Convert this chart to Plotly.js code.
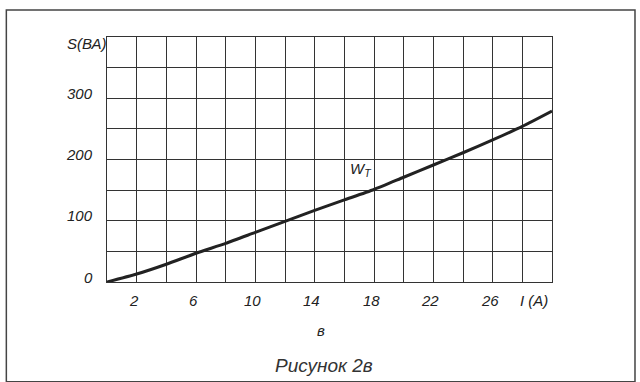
<!DOCTYPE html>
<html><head><meta charset="utf-8">
<script src="https://cdn.plot.ly/plotly-3.0.1.min.js"></script>
<style>html,body{margin:0;padding:0;background:#fff}#c{width:640px;height:382px}</style>
</head><body><div id="c"></div>
<script>
// Data
const current = [0, 2, 4, 6, 8, 10, 12, 14, 16, 18, 20, 22, 24, 26, 28, 30];          // I (A)
const power   = [0, 13, 29, 47, 63, 81, 99, 117, 134, 151, 171, 191, 211, 232, 254, 279]; // S (ВА)
const xTickVals = [2, 6, 10, 14, 18, 22, 26];
const xTickText = ["2", "6", "10", "14", "18", "22", "26"];
const yTickVals = [0, 100, 200, 300];
const yTickText = ["0", "100", "200", "300"];
const curveName = "W<sub>T</sub>";
const xUnitLabel = "I (A)";
const yUnitLabel = "S(ВА)";
const subLabel = "в";
const caption = "Рисунок 2в";

const ink = "#222";
const tickFont = {family: "Liberation Sans, Arial, sans-serif", size: 15, color: ink, style: "italic"};

const trace = {
  x: current, y: power, type: "scatter", mode: "lines",
  line: {color: ink, width: 3, shape: "spline", smoothing: 0.6},
  hoverinfo: "skip", showlegend: false
};

const axisCommon = {
  showgrid: true, gridcolor: "#333", gridwidth: 1,
  showline: true, linecolor: "#333", linewidth: 1, mirror: true,
  zeroline: false, ticks: "", showticklabels: false, fixedrange: true
};

// tick labels drawn as annotations, built from the tick arrays (slightly offset like the hand drawing)
const xTickAnn = xTickVals.map((v, i) => ({
  x: v, y: 0, xref: "x", yref: "y", text: xTickText[i], showarrow: false,
  font: tickFont, xanchor: "center", yanchor: "middle", xshift: -3, yshift: -18
}));
const yTickAnn = yTickVals.map((v, i) => ({
  x: 0, y: v, xref: "x", yref: "y", text: yTickText[i], showarrow: false,
  font: tickFont, xanchor: "right", yanchor: "middle", xshift: -12, yshift: 5
}));

const layout = {
  width: 640, height: 382,
  margin: {l: 107, r: 88, t: 37, b: 100, pad: 0},
  paper_bgcolor: "#fff", plot_bgcolor: "#fff",
  showlegend: false,
  xaxis: Object.assign({}, axisCommon, {
    range: [0, 30], tickmode: "array", tickvals: xTickVals, ticktext: xTickText,
    minor: {tick0: 0, dtick: 2, showgrid: true, gridcolor: "#333", gridwidth: 1, ticks: ""}
  }),
  yaxis: Object.assign({}, axisCommon, {
    range: [0, 400], tickmode: "array", tickvals: yTickVals, ticktext: yTickText,
    minor: {tick0: 0, dtick: 50, showgrid: true, gridcolor: "#333", gridwidth: 1, ticks: ""}
  }),
  annotations: xTickAnn.concat(yTickAnn, [
    {x: 17.1, y: 183, xref: "x", yref: "y", text: curveName, showarrow: false,
     font: tickFont, xanchor: "center", yanchor: "middle"},
    {x: 28.8, y: 0, xref: "x", yref: "y", text: xUnitLabel, showarrow: false,
     font: tickFont, xanchor: "center", yanchor: "middle", yshift: -18},
    {x: 0, y: 400, xref: "x", yref: "y", text: yUnitLabel, showarrow: false,
     font: tickFont, xanchor: "right", yanchor: "middle", xshift: 2, yshift: -6},
    {x: 14.4, y: 0, xref: "x", yref: "y", text: subLabel, showarrow: false,
     font: tickFont, xanchor: "center", yanchor: "middle", yshift: -48},
    {x: 0.487, y: 0, xref: "paper", yref: "paper", text: caption, showarrow: false,
     font: {family: "Liberation Sans, Arial, sans-serif", size: 19, color: "#333", style: "italic"},
     xanchor: "center", yanchor: "middle", yshift: -83}
  ]),
  shapes: [
    {type: "rect", xref: "paper", yref: "paper",
     x0: -0.2262, x1: 1.1865, y0: -0.4070, y1: 1.1104,
     line: {color: "#444", width: 1.5}, fillcolor: "rgba(0,0,0,0)", layer: "below"}
  ]
};

Plotly.newPlot("c", [trace], layout, {displayModeBar: false, staticPlot: true});
</script>
</body></html>
